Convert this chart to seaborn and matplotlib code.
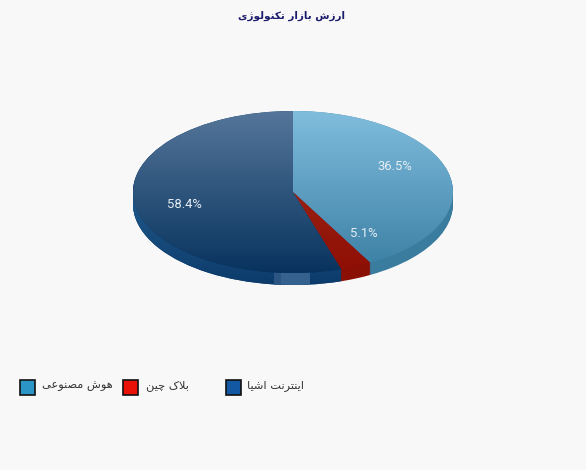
import numpy as np
import seaborn as sns
import matplotlib.pyplot as plt
from matplotlib.patches import Ellipse, Rectangle

# data
categories = ['هوش مصنوعی', 'بلاک چین', 'اینترنت اشیا']
values = [36.5, 5.1, 58.4]
chart_title = 'ارزش بازار تکنولوژی'

# colours, same order as categories
legend_colors = ['#2b95c8', '#ea1207', '#1258a3']
top_colors = ['#80bddd', '#a33224', '#55769a']
bottom_colors = ['#3a7ea3', '#8f0e03', '#08335e']
wall_colors = ['#3a7c9e', '#8a0f05', '#0f3f70']
blue_wall_ramp = ['#215a8c', '#0c3b6b']

BG = '#f8f8f9'
W, H = 586, 470
# pie ellipse in pixels
CX, CY, RX, RY = 293, 192, 160, 81
DEPTH = 12 / RY
TILT = 1.75  # the original's 3d view stretches the slices near the front

# presentation forms: isolated, final, initial, medial
FORMS = {
    'ا': (0xFE8D, 0xFE8E), 'ر': (0xFEAD, 0xFEAE), 'ز': (0xFEAF, 0xFEB0),
    'ژ': (0xFB8A, 0xFB8B), 'و': (0xFEED, 0xFEEE),
    'ش': (0xFEB5, 0xFEB6, 0xFEB7, 0xFEB8), 'ب': (0xFE8F, 0xFE90, 0xFE91, 0xFE92),
    'ت': (0xFE95, 0xFE96, 0xFE97, 0xFE98), 'ک': (0xFB8E, 0xFB8F, 0xFB90, 0xFB91),
    'ن': (0xFEE5, 0xFEE6, 0xFEE7, 0xFEE8), 'ل': (0xFEDD, 0xFEDE, 0xFEDF, 0xFEE0),
    'ی': (0xFBFC, 0xFBFD, 0xFBFE, 0xFBFF), 'ه': (0xFEE9, 0xFEEA, 0xFEEB, 0xFEEC),
    'م': (0xFEE1, 0xFEE2, 0xFEE3, 0xFEE4), 'ص': (0xFEB9, 0xFEBA, 0xFEBB, 0xFEBC),
    'ع': (0xFEC9, 0xFECA, 0xFECB, 0xFECC), 'چ': (0xFB7A, 0xFB7B, 0xFB7C, 0xFB7D),
}


def shape(text):
    # matplotlib has no arabic shaping, so pick the joined forms and reverse
    out = []
    i = 0
    while i < len(text):
        c = text[i]
        if c not in FORMS:
            out.append(c)
            i += 1
            continue
        prev = text[i - 1] if i > 0 else ' '
        joined_before = prev in FORMS and len(FORMS[prev]) == 4
        if c == 'ل' and text[i + 1:i + 2] == 'ا':
            out.append(chr(0xFEFC if joined_before else 0xFEFB))
            i += 2
            continue
        nxt = text[i + 1] if i + 1 < len(text) else ' '
        forms = FORMS[c]
        joins_after = len(forms) == 4 and nxt in FORMS
        if joined_before and joins_after:
            out.append(chr(forms[3]))
        elif joined_before:
            out.append(chr(forms[1]))
        elif joins_after:
            out.append(chr(forms[2]))
        else:
            out.append(chr(forms[0]))
        i += 1
    return ''.join(reversed(out))


def tilted_shares(vals):
    half = np.cumsum([0] + list(vals)) / np.sum(vals) * np.pi
    warped = np.arctan2(TILT * np.sin(half), np.cos(half))
    warped[-1] = np.pi
    return np.diff(warped)


sns.set_theme(style='white')
plt.rcParams['font.family'] = ['DejaVu Sans']

fig = plt.figure(figsize=(W / 100, H / 100), dpi=100, facecolor=BG)
ax = fig.add_axes([(CX - RX) / W, 1 - (CY + RY + 20) / H, 2 * RX / W, (2 * RY + 20) / H])
ax.patch.set_alpha(0)

shares = tilted_shares(values)
ramp = np.linspace(0, 1, 256).reshape(-1, 1)
wall_cmap = sns.blend_palette(blue_wall_ramp, n_colors=256, as_cmap=True)

# side wall: same pie stacked downwards
for d in np.linspace(DEPTH, 0.01, 14):
    layer, _ = ax.pie(shares, colors=wall_colors, startangle=90, counterclock=False,
                      center=(0, -d), wedgeprops={'linewidth': 0})
    im = ax.imshow(ramp, cmap=wall_cmap, extent=[-1, 1, -1 - DEPTH, 0], origin='upper',
                   aspect='auto', zorder=1.5)
    im.set_clip_path(layer[2])

# lighter end facet at the front of the wall
wall_clip = Ellipse((0, -DEPTH), 2, 2, transform=ax.transData)
facet = Rectangle((-19 / RX, -1.2), 36 / RX, 0.4, color='#35618f', lw=0, zorder=3)
ax.add_patch(facet)
facet.set_clip_path(wall_clip)
facet_edge = Rectangle((-19 / RX, -1.2), 7 / RX, 0.4, color='#2c5584', lw=0, zorder=3)
ax.add_patch(facet_edge)
facet_edge.set_clip_path(wall_clip)

# top surface with vertical gradients
wedges, _ = ax.pie(shares, colors=bottom_colors, startangle=90, counterclock=False,
                   wedgeprops={'linewidth': 0})
for w, c0, c1 in zip(wedges, top_colors, bottom_colors):
    w.set_zorder(4)
    cmap = sns.blend_palette([c0, c1], n_colors=256, as_cmap=True)
    im = ax.imshow(ramp, cmap=cmap, extent=[-1, 1, -1, 1], origin='upper', aspect='auto', zorder=5)
    im.set_clip_path(w)

# labels sit at the untilted angles, so use a hidden pie of the real values
_, _, autotexts = ax.pie(values, startangle=90, counterclock=False, autopct='%.1f%%',
                         pctdistance=0.70, wedgeprops={'visible': False})
for t in autotexts:
    t.set(color='#e6eef4', fontsize=9.4, family='Roboto', zorder=10)
    t.set_y(t.get_position()[1] + 2.5 / RY)

ax.set_aspect('auto')
ax.set_xlim(-1, 1)
ax.set_ylim(-1 - 20 / RY, 1)
ax.axis('off')

# overlay in pixel coords for title and legend
over = fig.add_axes([0, 0, 1, 1])
over.set_xlim(0, W)
over.set_ylim(H, 0)
over.axis('off')
over.patch.set_alpha(0)

over.text(292, 15.5, shape(chart_title), ha='center', va='center', fontsize=7.5,
          fontweight='bold', color='#1b1b6b')

swatch_x = [20, 123, 226]
text_x = [113, 189, 304]
for sx, tx, name, col in zip(swatch_x, text_x, categories, legend_colors):
    over.add_patch(Rectangle((sx, 380), 15, 15, facecolor=col, edgecolor='#111111', lw=1.2))
    over.text(tx, 386, shape(name), ha='right', va='center', fontsize=8.2, color='#333333')

fig.savefig('out.png', dpi=100, facecolor=BG)
